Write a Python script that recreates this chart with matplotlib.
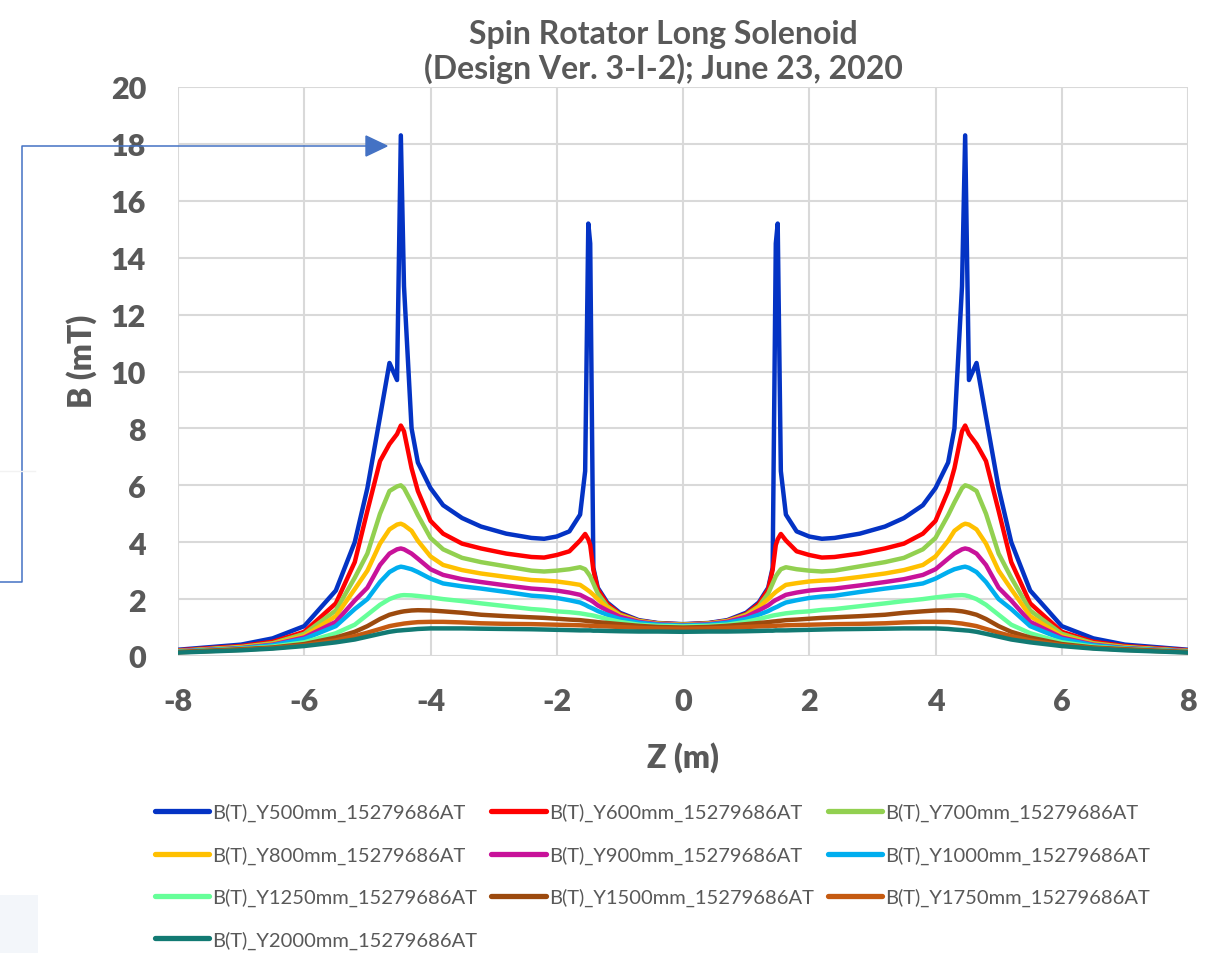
import matplotlib
matplotlib.use('Agg')
import matplotlib.pyplot as plt
from matplotlib.lines import Line2D
from matplotlib.patches import Polygon, Rectangle

# z positions (m) on the left half; the field map is symmetric about z = 0
z_half = [-8, -7, -6.5, -6, -5.5, -5.2, -5.0, -4.8, -4.65, -4.53, -4.47, -4.42,
          -4.3, -4.2, -4.0, -3.8, -3.5, -3.2, -2.8, -2.4, -2.2, -2.0, -1.8,
          -1.63, -1.55, -1.5, -1.47, -1.42, -1.35, -1.2, -1.0, -0.7, -0.4, 0]

# B (mT) for each radial offset Y
b_y500 = [0.22, 0.4, 0.62, 1.05, 2.3, 4.0, 5.9, 8.4, 10.3, 9.7, 18.3, 13.0,
          8.0, 6.8, 5.9, 5.3, 4.85, 4.55, 4.3, 4.15, 4.12, 4.2, 4.38,
          4.97, 6.5, 15.2, 14.5, 3.1, 2.4, 1.88, 1.52, 1.26, 1.16, 1.12]
b_y600 = [0.2, 0.35, 0.5, 0.85, 1.85, 3.3, 5.1, 6.85, 7.45, 7.8, 8.1, 7.9,
          6.6, 5.8, 4.75, 4.3, 3.95, 3.78, 3.6, 3.48, 3.46, 3.55, 3.68,
          4.06, 4.29, 4.1, 3.9, 3.03, 2.34, 1.83, 1.48, 1.24, 1.15, 1.11]
b_y700 = [0.18, 0.32, 0.45, 0.78, 1.6, 2.75, 3.6, 5.0, 5.8, 5.96, 6.0, 5.9,
          5.4, 4.95, 4.15, 3.75, 3.45, 3.3, 3.15, 3.0, 2.97, 3.0, 3.05,
          3.12, 3.05, 2.9, 2.8, 2.55, 2.2, 1.75, 1.45, 1.23, 1.14, 1.1]
b_y800 = [0.17, 0.3, 0.42, 0.7, 1.4, 2.35, 3.0, 3.95, 4.45, 4.62, 4.65, 4.6,
          4.4, 4.05, 3.5, 3.2, 3.02, 2.9, 2.78, 2.67, 2.65, 2.62, 2.56,
          2.5, 2.38, 2.3, 2.25, 2.15, 2.0, 1.7, 1.42, 1.22, 1.13, 1.09]
b_y900 = [0.17, 0.28, 0.4, 0.65, 1.2, 1.95, 2.4, 3.2, 3.6, 3.75, 3.78, 3.75,
          3.6, 3.42, 3.05, 2.85, 2.7, 2.6, 2.48, 2.37, 2.34, 2.3, 2.23,
          2.15, 2.06, 2.0, 1.97, 1.9, 1.78, 1.6, 1.38, 1.2, 1.12, 1.08]
b_y1000 = [0.16, 0.27, 0.38, 0.6, 1.05, 1.65, 2.0, 2.6, 2.95, 3.1, 3.14, 3.12,
           3.05, 2.95, 2.72, 2.55, 2.45, 2.37, 2.25, 2.12, 2.09, 2.04, 1.96,
           1.88, 1.8, 1.74, 1.71, 1.66, 1.58, 1.45, 1.3, 1.17, 1.1, 1.07]
b_y1250 = [0.15, 0.25, 0.33, 0.48, 0.8, 1.1, 1.45, 1.8, 2.0, 2.1, 2.13, 2.14,
           2.13, 2.11, 2.06, 2.0, 1.93, 1.85, 1.75, 1.65, 1.62, 1.57, 1.54,
           1.5, 1.47, 1.45, 1.44, 1.42, 1.38, 1.3, 1.2, 1.1, 1.06, 1.04]
b_y1500 = [0.14, 0.24, 0.3, 0.42, 0.65, 0.85, 1.05, 1.3, 1.45, 1.52, 1.55, 1.57,
           1.6, 1.61, 1.6, 1.57, 1.52, 1.45, 1.4, 1.36, 1.34, 1.31, 1.28,
           1.26, 1.24, 1.23, 1.22, 1.21, 1.19, 1.16, 1.12, 1.06, 1.02, 1.0]
b_y1750 = [0.13, 0.22, 0.28, 0.38, 0.55, 0.7, 0.82, 0.95, 1.05, 1.1, 1.12, 1.14,
           1.17, 1.19, 1.2, 1.2, 1.18, 1.15, 1.13, 1.12, 1.11, 1.1, 1.09,
           1.08, 1.07, 1.07, 1.06, 1.06, 1.05, 1.04, 1.02, 0.99, 0.97, 0.96]
b_y2000 = [0.12, 0.2, 0.26, 0.35, 0.48, 0.58, 0.68, 0.78, 0.85, 0.89, 0.9, 0.91,
           0.93, 0.95, 0.97, 0.97, 0.97, 0.96, 0.95, 0.94, 0.93, 0.92, 0.91,
           0.9, 0.9, 0.9, 0.9, 0.89, 0.89, 0.88, 0.87, 0.86, 0.86, 0.85]

series_labels = ['B(T)_Y500mm_15279686AT', 'B(T)_Y600mm_15279686AT',
                 'B(T)_Y700mm_15279686AT', 'B(T)_Y800mm_15279686AT',
                 'B(T)_Y900mm_15279686AT', 'B(T)_Y1000mm_15279686AT',
                 'B(T)_Y1250mm_15279686AT', 'B(T)_Y1500mm_15279686AT',
                 'B(T)_Y1750mm_15279686AT', 'B(T)_Y2000mm_15279686AT']
series_values = [b_y500, b_y600, b_y700, b_y800, b_y900,
                 b_y1000, b_y1250, b_y1500, b_y1750, b_y2000]
colors = ['#0433C4', '#FF0000', '#92D050', '#FFC000', '#C8129A',
          '#00AEEF', '#66FF99', '#9C4A0E', '#C55A11', '#127A73']

x_ticks = [-8, -6, -4, -2, 0, 2, 4, 6, 8]
y_ticks = [0, 2, 4, 6, 8, 10, 12, 14, 16, 18, 20]

TXT = '#595959'
plt.rcParams['font.family'] = ['Lato', 'DejaVu Sans']
plt.rcParams['axes.unicode_minus'] = False

W, H = 1215, 954
fig = plt.figure(figsize=(W / 100, H / 100), dpi=100)
ax = fig.add_axes([178 / W, 1 - 657 / H, 1010 / W, 569 / H])

# mirror the left half to get the full z range
z_full = z_half + [-z for z in reversed(z_half[:-1])]
lines = []
for vals, lab, col in zip(series_values, series_labels, colors):
    full = vals + list(reversed(vals[:-1]))
    ln, = ax.plot(z_full, full, color=col, lw=3.2, label=lab,
                  solid_capstyle='round', solid_joinstyle='round')
    lines.append(ln)

ax.set_xlim(-8, 8)
ax.set_ylim(0, 20)
ax.set_xticks(x_ticks)
ax.set_yticks(y_ticks)
ax.grid(True, color='#D9D9D9', lw=1.5)
ax.set_axisbelow(True)
for s in ax.spines.values():
    s.set_visible(False)
ax.tick_params(length=0, labelsize=22, labelcolor=TXT)
ax.tick_params(axis='x', pad=22)
ax.tick_params(axis='y', pad=23)
for t in ax.get_xticklabels() + ax.get_yticklabels():
    t.set_fontweight('heavy')

ax.set_xlabel('Z (m)', fontsize=23, fontweight='heavy', color=TXT)
ax.set_ylabel('B (mT)', fontsize=23, fontweight='heavy', color=TXT)
ax.xaxis.set_label_coords(0.5, -0.149)
ax.yaxis.set_label_coords(-0.08, 0.52)

fig.text(663 / W, 1 - 52 / H,
         'Spin Rotator Long Solenoid\n(Design Ver. 3-I-2); June 23, 2020',
         ha='center', va='center', fontsize=23, fontweight='bold',
         color=TXT, linespacing=1.2)

# legend reads row by row in the reference; matplotlib fills by column
order = [0, 3, 6, 9, 1, 4, 7, 2, 5, 8]
leg = fig.legend([lines[i] for i in order], [series_labels[i] for i in order],
                 loc='upper left', bbox_to_anchor=(155 / W, 1 - 804 / H),
                 ncol=3, frameon=False, fontsize=14.5, handlelength=2.7,
                 handletextpad=0.15, columnspacing=0.7, labelspacing=1.2,
                 borderpad=0, borderaxespad=0)
for t in leg.get_texts():
    t.set_color(TXT)
for h in leg.get_lines():
    h.set_linewidth(3.8)

# callout arrow pointing at the 18 mT peak
ac = '#4472C4'
px = [0, 22, 22, 368]
py = [583, 583, 147, 147]
fig.add_artist(Line2D([x / W for x in px], [1 - y / H for y in py],
                      transform=fig.transFigure, color=ac, lw=1.1))
fig.add_artist(Polygon([(366 / W, 1 - 137 / H), (387 / W, 1 - 147 / H),
                        (366 / W, 1 - 157 / H)], closed=True,
                       transform=fig.transFigure, color=ac))
# faint leftovers from the original screenshot
fig.add_artist(Line2D([0, 35 / W], [1 - 472 / H, 1 - 472 / H],
                      transform=fig.transFigure, color='#F2F2F2', lw=1))
fig.add_artist(Rectangle((0, 0), 38 / W, 58 / H, transform=fig.transFigure,
                         color='#F3F6FA', lw=0))

fig.savefig('out.png', dpi=100)
